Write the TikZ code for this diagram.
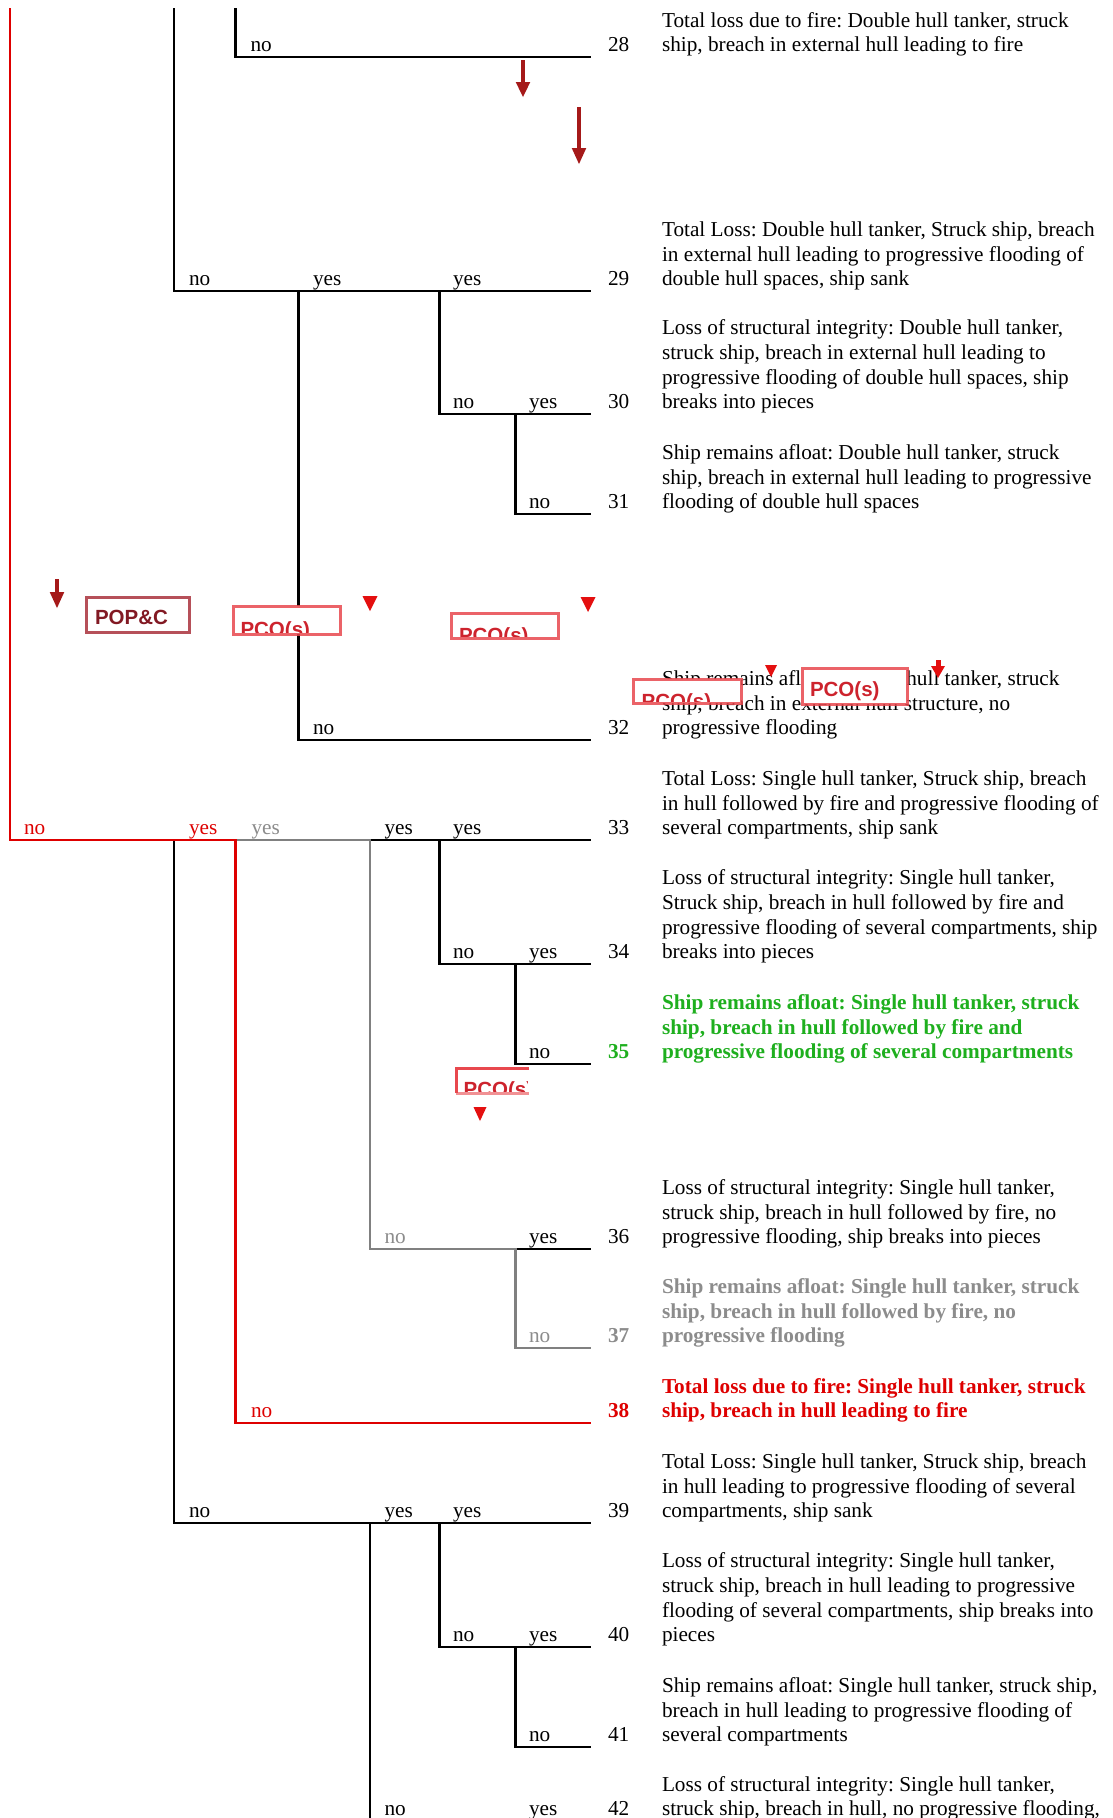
\documentclass[tikz,border=0pt]{standalone}
\usepackage{fontspec}
\setmainfont{Liberation Serif}
\setsansfont{Liberation Sans}
\frenchspacing
\definecolor{tred}{RGB}{222,0,0}
\definecolor{tgreen}{RGB}{30,175,30}
\definecolor{tgrey}{RGB}{128,128,128}
\definecolor{tgreytxt}{RGB}{140,140,140}
\definecolor{darkarrow}{RGB}{165,25,25}
\definecolor{pcored}{RGB}{232,72,78}
\definecolor{pcotxt}{RGB}{205,35,45}
\definecolor{popred}{RGB}{170,50,60}
\definecolor{poptxt}{RGB}{130,25,35}
\definecolor{trired}{RGB}{228,15,15}
\newcommand\txtsize{\fontsize{21.25}{24.7}\selectfont}
% one outcome: number and description, bottom line on the given baseline
\newcommand\outcomeRow[5]{%
  \node[num,#3] (n#1) at (608,#2) {#1};
  \node[desc,#3] (d#1) at (662,#2) {\begin{tabular}[b]{@{}l@{}}#5\end{tabular}};
}
% dark red arrow pointing down: x, shaft top, head start, tip
\newcommand\dropArrow[4]{%
  \fill[darkarrow] ({#1-2.3},#2) rectangle ({#1+2.3},{#3+1});
  \fill[darkarrow] ({#1-7.3},#3) -- ({#1+7.3},#3) -- (#1,#4) -- cycle;
}
% red marker triangle: x, top, tip, half width
\newcommand\tipMark[4]{%
  \fill[trired] ({#1-#4},#2) -- ({#1+#4},#2) -- (#1,#3) -- cycle;
}
\begin{document}
\begin{tikzpicture}[x=1pt,y=-1pt,
  every node/.style={inner sep=0pt,outer sep=0pt},
  branch/.style={line width=2.4pt,line join=miter},
  lbl/.style={font=\txtsize,anchor=base west},
  num/.style={font=\txtsize,anchor=base west},
  desc/.style={font=\txtsize,anchor=base west},
  boldgreen/.style={font=\txtsize\bfseries,text=tgreen},
  boldgrey/.style={font=\txtsize\bfseries,text=tgreytxt},
  boldred/.style={font=\txtsize\bfseries,text=tred},
  pcobox/.style={draw=pcored,draw opacity=0.85,fill=white,line width=3pt,anchor=north west},
  pcotext/.style={font=\sffamily\bfseries\fontsize{20.5}{24}\selectfont,text=pcotxt,anchor=base west},
]
\fill[white] (0,0) rectangle (1112,1818);
\useasboundingbox (0,0) rectangle (1112,1818);

% ---- branch points ----
\coordinate (tA) at (10,8);
\coordinate (tB) at (174,8);
\coordinate (tC) at (235.5,8);
\coordinate (c28) at (235.5,57);   \coordinate (e28) at (591,57);
\coordinate (b29) at (174,291);    \coordinate (d29) at (298.5,291);
\coordinate (f29) at (439.5,291);  \coordinate (e29) at (591,291);
\coordinate (f30) at (439.5,414);  \coordinate (g30) at (515.3,414);  \coordinate (e30) at (591,414);
\coordinate (g31) at (515.3,514);  \coordinate (e31) at (591,514);
\coordinate (d32) at (298.5,740);  \coordinate (e32) at (591,740);
\coordinate (a33) at (10,840);     \coordinate (b33) at (174,840);
\coordinate (c33) at (235.5,840);  \coordinate (x33) at (370,840);
\coordinate (f33) at (439.5,840);  \coordinate (e33) at (591,840);
\coordinate (f34) at (439.5,964);  \coordinate (g34) at (515.3,964);  \coordinate (e34) at (591,964);
\coordinate (g35) at (515.3,1064); \coordinate (e35) at (591,1064);
\coordinate (x36) at (370,1249);   \coordinate (g36) at (515.3,1249); \coordinate (e36) at (591,1249);
\coordinate (g37) at (515.3,1348); \coordinate (e37) at (591,1348);
\coordinate (c38) at (235.5,1423); \coordinate (e38) at (591,1423);
\coordinate (b39) at (174,1523);   \coordinate (x39) at (370,1523);
\coordinate (f39) at (439.5,1523); \coordinate (e39) at (591,1523);
\coordinate (f40) at (439.5,1647); \coordinate (g40) at (515.3,1647); \coordinate (e40) at (591,1647);
\coordinate (g41) at (515.3,1747); \coordinate (e41) at (591,1747);
\coordinate (x42) at (370,1830);

% ---- double hull part ----
\draw[branch] (tB) -- (b29) -- (e29);
\draw[branch] (tC) -- (c28) -- (e28);
\draw[branch] (d29) -- (d32) -- (e32);
\draw[branch] (f29) -- (f30) -- (e30);
\draw[branch] (g30) -- (g31) -- (e31);

% ---- single hull part ----
\draw[branch] (x33) -- (e33);
\draw[branch] (f33) -- (f34) -- (e34);
\draw[branch] (g34) -- (g35) -- (e35);
\draw[branch] (g36) -- (e36);
\draw[branch] (b33) -- (b39) -- (e39);
\draw[branch] (x39) -- (x42);
\draw[branch] (f39) -- (f40) -- (e40);
\draw[branch] (g40) -- (g41) -- (e41);
\draw[branch,tgrey] (c33) -- (x33) -- (x36) -- (g36) -- (g37) -- (e37);
\draw[branch,tred] (tA) -- (a33) -- (c33) -- (c38) -- (e38);

% ---- yes / no labels ----
\node[lbl] (l28a) at (250.5,51.7) {no};
\node[lbl] (l29a) at (189,285.7) {no};
\node[lbl] (l29b) at (313,285.7) {yes};
\node[lbl] (l29c) at (453,285.7) {yes};
\node[lbl] (l30a) at (453,408.7) {no};
\node[lbl] (l30b) at (529,408.7) {yes};
\node[lbl] (l31a) at (529,508.7) {no};
\node[lbl] (l32a) at (313,734.7) {no};
\node[lbl,text=tred] (l33a) at (24,834.7) {no};
\node[lbl,text=tred] (l33b) at (189,834.7) {yes};
\node[lbl,text=tgreytxt] (l33c) at (251.5,834.7) {yes};
\node[lbl] (l33d) at (384.5,834.7) {yes};
\node[lbl] (l33e) at (453,834.7) {yes};
\node[lbl] (l34a) at (453,958.7) {no};
\node[lbl] (l34b) at (529,958.7) {yes};
\node[lbl] (l35a) at (529,1058.7) {no};
\node[lbl,text=tgreytxt] (l36a) at (384.5,1243.7) {no};
\node[lbl] (l36b) at (529,1243.7) {yes};
\node[lbl,text=tgreytxt] (l37a) at (529,1342.7) {no};
\node[lbl,text=tred] (l38a) at (251,1417.7) {no};
\node[lbl] (l39a) at (189,1517.7) {no};
\node[lbl] (l39b) at (384.5,1517.7) {yes};
\node[lbl] (l39c) at (453,1517.7) {yes};
\node[lbl] (l40a) at (453,1641.7) {no};
\node[lbl] (l40b) at (529,1641.7) {yes};
\node[lbl] (l41a) at (529,1741.7) {no};
\node[lbl] (l42a) at (384.5,1815.7) {no};
\node[lbl] (l42b) at (529,1815.7) {yes};

% ---- outcomes ----
\outcomeRow{28}{51.7}{}{}{Total loss due to fire: Double hull tanker, struck\\ship, breach in external hull leading to fire}
\outcomeRow{29}{285.7}{}{}{Total Loss: Double hull tanker, Struck ship, breach\\in external hull leading to progressive flooding of\\double hull spaces, ship sank}
\outcomeRow{30}{408.7}{}{}{Loss of structural integrity: Double hull tanker,\\struck ship, breach in external hull leading to\\progressive flooding of double hull spaces, ship\\breaks into pieces}
\outcomeRow{31}{508.7}{}{}{Ship remains afloat: Double hull tanker, struck\\ship, breach in external hull leading to progressive\\flooding of double hull spaces}
\outcomeRow{32}{734.7}{}{}{Ship remains afloat: Double hull tanker, struck\\ship, breach in external hull structure, no\\progressive flooding}
\outcomeRow{33}{834.7}{}{}{Total Loss: Single hull tanker, Struck ship, breach\\in hull followed by fire and progressive flooding of\\several compartments, ship sank}
\outcomeRow{34}{958.7}{}{}{Loss of structural integrity: Single hull tanker,\\Struck ship, breach in hull followed by fire and\\progressive flooding of several compartments, ship\\breaks into pieces}
\outcomeRow{35}{1058.7}{boldgreen}{}{Ship remains afloat: Single hull tanker, struck\\ship, breach in hull followed by fire and\\progressive flooding of several compartments}
\outcomeRow{36}{1243.7}{}{}{Loss of structural integrity: Single hull tanker,\\struck ship, breach in hull followed by fire, no\\progressive flooding, ship breaks into pieces}
\outcomeRow{37}{1342.7}{boldgrey}{}{Ship remains afloat: Single hull tanker, struck\\ship, breach in hull followed by fire, no\\progressive flooding}
\outcomeRow{38}{1417.7}{boldred}{}{Total loss due to fire: Single hull tanker, struck\\ship, breach in hull leading to fire}
\outcomeRow{39}{1517.7}{}{}{Total Loss: Single hull tanker, Struck ship, breach\\in hull leading to progressive flooding of several\\compartments, ship sank}
\outcomeRow{40}{1641.7}{}{}{Loss of structural integrity: Single hull tanker,\\struck ship, breach in hull leading to progressive\\flooding of several compartments, ship breaks into\\pieces}
\outcomeRow{41}{1741.7}{}{}{Ship remains afloat: Single hull tanker, struck ship,\\breach in hull leading to progressive flooding of\\several compartments}
\outcomeRow{42}{1815.7}{}{}{Loss of structural integrity: Single hull tanker,\\struck ship, breach in hull, no progressive flooding,}

% ---- markers ----
\dropArrow{523}{60}{82}{97}
\dropArrow{579}{107}{148}{164}
\dropArrow{57}{579}{592}{608}

\node[draw=popred,draw opacity=0.85,fill=white,line width=3pt,anchor=north west,
      minimum width=103pt,minimum height=35pt] (pop) at (86,597) {};
\node[pcotext,text=poptxt] (popt) at ([xshift=9pt,yshift=-27pt]pop.north west) {POP\&C};

\node[pcobox,minimum width=107pt,minimum height=28pt] (b1) at (233,606) {};
\node[pcobox,minimum width=107pt,minimum height=25pt] (b2) at (451,613) {};
\node[pcobox,minimum width=108pt,minimum height=24pt] (b3) at (633,679) {};
\node[pcobox,minimum width=105pt,minimum height=36pt] (b4) at (802,668) {};
\node[anchor=north west,fill=white,minimum width=73pt,minimum height=25pt] (b5) at (456,1068) {};
\draw[pcored,line width=3pt] (b5.north east) -- (b5.north west) -- (b5.south west);
\draw[pcored,line width=3pt,draw opacity=0.6] (b5.south west) -- (b5.south east);

\foreach \b/\dx/\dy in {b1/7.5/30,b2/8/29,b3/8.7/29,b4/8/28,b5/7.6/28}{
  \begin{scope}
    \clip ([xshift=1.5pt,yshift=1.5pt]\b.south west) rectangle ([xshift=-1.5pt,yshift=-1.5pt]\b.north east);
    \node[pcotext] (\b t) at ([xshift=\dx pt,yshift=-\dy pt]\b.north west) {PCO(s)};
  \end{scope}
}

\tipMark{370}{596}{611}{7.5}
\tipMark{588}{597}{612}{7.5}
\tipMark{771}{665}{677}{6}
\tipMark{480}{1107}{1121}{6.5}
\fill[trired] (935.5,660) rectangle (940.5,667);
\tipMark{938}{666}{678}{7}
\end{tikzpicture}
\end{document}
